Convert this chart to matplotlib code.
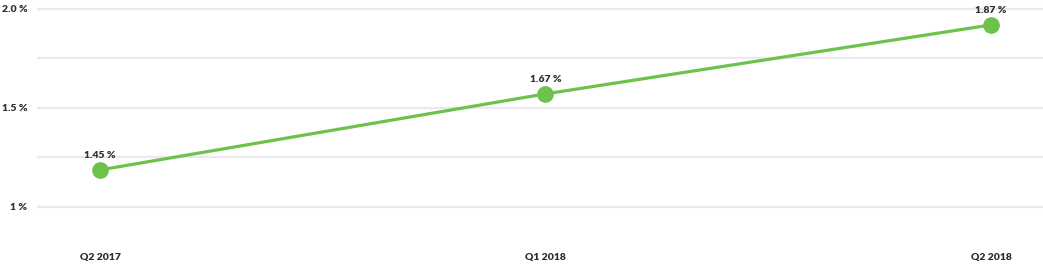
import matplotlib
matplotlib.use("Agg")
import matplotlib.pyplot as plt

# chart data
quarters = ["Q2 2017", "Q1 2018", "Q2 2018"]
rates = [1.187, 1.571, 1.919]          # plotted position
rate_labels = ["1.45 %", "1.67 %", "1.87 %"]
y_ticks = [1.0, 1.25, 1.5, 1.75, 2.0]
y_tick_labels = ["1 %", "", "1.5 %", "", "2.0 %"]

GREEN = "#6cc24a"
TEXT = "#2e2e2e"
GRID = "#e9e9ef"

plt.rcParams["font.family"] = ["Lato", "DejaVu Sans"]
plt.rcParams["font.weight"] = 800

fig = plt.figure(figsize=(10.43, 2.65), dpi=100)
ax = fig.add_axes([37 / 1043, 40 / 265, 1 - 37 / 1043, 225 / 265])

x = list(range(len(quarters)))
ax.plot(x, rates, color=GREEN, linewidth=2.3, marker="o", markersize=11,
        solid_capstyle="round", zorder=3)

for xi, yi, lab in zip(x, rates, rate_labels):
    ax.annotate(lab, (xi, yi), xytext=(0, 7), textcoords="offset points",
                ha="center", va="bottom", fontsize=7.5, fontweight=800,
                color=TEXT)

ax.set_xlim(-0.1414, 2.117)
ax.set_ylim(0.909, 2.045)
ax.set_yticks(y_ticks)
ax.set_yticklabels(y_tick_labels)
ax.set_xticks(x)
ax.set_xticklabels(quarters)

ax.grid(axis="y", color=GRID, linewidth=1.6)
ax.set_axisbelow(True)
for s in ax.spines.values():
    s.set_visible(False)

ax.tick_params(axis="both", length=0, labelsize=7.5, labelcolor=TEXT)
ax.tick_params(axis="y", pad=7)
ax.tick_params(axis="x", pad=20)
for t in ax.get_xticklabels() + ax.get_yticklabels():
    t.set_fontweight(800)

fig.savefig("out.png", dpi=100)
